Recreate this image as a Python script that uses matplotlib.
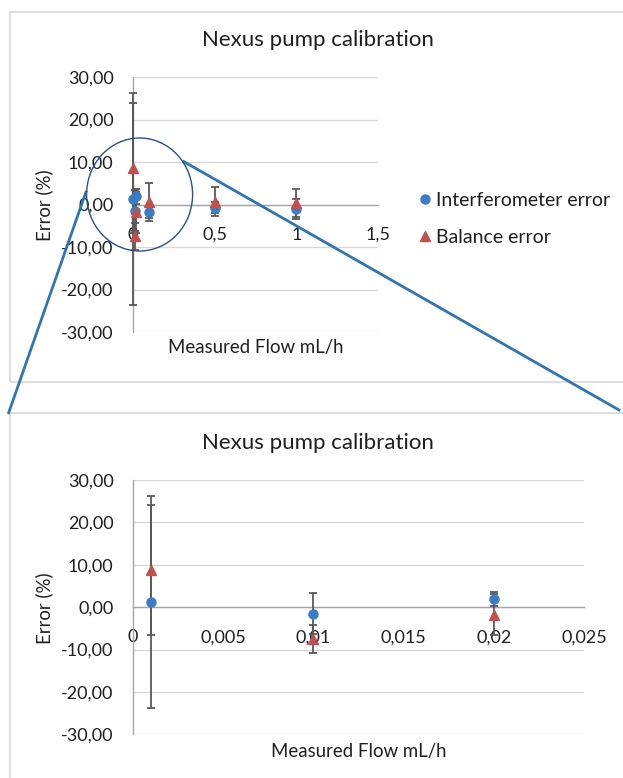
import matplotlib
matplotlib.use("Agg")
import matplotlib.pyplot as plt
from matplotlib.patches import Ellipse, Rectangle
from matplotlib.lines import Line2D

# ---------------- data ----------------
title = "Nexus pump calibration"
xlabel = "Measured Flow mL/h"
ylabel = "Error (%)"
series_names = ["Interferometer error", "Balance error"]

flow = [0.001, 0.01, 0.02, 0.1, 0.5, 1.0]
interf_err = [1.3, -1.5, 1.9, -1.7, -0.8, -1.0]
interf_lo = [25.0, 4.8, 1.7, 1.4, 1.3, 2.3]
interf_hi = [25.0, 4.8, 1.7, 1.4, 1.3, 2.3]
balance_err = [8.7, -7.5, -1.8, 0.6, 0.5, 0.3]
balance_lo = [15.3, 3.2, 4.8, 4.4, 3.3, 3.3]
balance_hi = [15.3, 3.2, 4.8, 4.4, 3.6, 3.3]

y_ticks = [-30, -20, -10, 0, 10, 20, 30]
y_ticklabels = ["-30,00", "-20,00", "-10,00", "0,00", "10,00", "20,00", "30,00"]
top_xticks = [0, 0.5, 1.0, 1.5]
top_xticklabels = ["0", "0,5", "1", "1,5"]
bot_xticks = [0, 0.005, 0.01, 0.015, 0.02, 0.025]
bot_xticklabels = ["0", "0,005", "0,01", "0,015", "0,02", "0,025"]

# ---------------- style ----------------
plt.rcParams["font.family"] = ["Lato", "DejaVu Sans"]
FS = 13
TXT = "#1f1f1f"
BLUE = "#3A7DC6"
RED = "#C0504D"
ERR = "#595959"
GRID = "#D9D9D9"
AXIS = "#A6A6A6"

W, H = 623, 778
fig = plt.figure(figsize=(W / 100, H / 100), dpi=100)


def fx(px):
    return px / W


def fy(py):
    return 1 - py / H


# panel frames
fig.patches.append(Rectangle((fx(9.5), fy(381.5)), 1.0, fy(12) - fy(381.5),
                             transform=fig.transFigure, fill=False,
                             edgecolor=GRID, lw=1.2, zorder=0))
fig.patches.append(Rectangle((fx(9.5), -0.1), 1.0, fy(412.7) + 0.1,
                             transform=fig.transFigure, fill=False,
                             edgecolor=GRID, lw=1.2, zorder=0))


def setup(ax, xlim, xticks, xticklabels, title_py, ylabel_py):
    ax.set_xlim(*xlim)
    ax.set_ylim(-30, 30)
    ax.set_yticks(y_ticks)
    ax.set_yticklabels(y_ticklabels)
    ax.set_xticks(xticks)
    ax.set_xticklabels(xticklabels)
    for s in ["top", "right"]:
        ax.spines[s].set_visible(False)
    ax.spines["bottom"].set_position(("data", 0))
    ax.spines["bottom"].set_color(AXIS)
    ax.spines["left"].set_color(AXIS)
    ax.spines["bottom"].set_linewidth(1.0)
    ax.spines["left"].set_linewidth(1.0)
    ax.yaxis.grid(True, color=GRID, lw=1.0)
    ax.set_axisbelow(True)
    ax.tick_params(axis="y", length=0, pad=14, labelsize=FS, colors=TXT)
    ax.tick_params(axis="x", length=0, pad=16, labelsize=FS, colors=TXT)
    ax.patch.set_alpha(0)
    fig.text(fx(318), fy(title_py), title, ha="center", va="center",
             fontsize=16, color=TXT)
    fig.text(fx(44), fy(ylabel_py), ylabel, ha="center", va="center",
             rotation=90, fontsize=13.4, color=TXT)


def draw(ax):
    ax.errorbar(flow, interf_err, yerr=[interf_lo, interf_hi], fmt="none",
                ecolor=ERR, elinewidth=1.3, capsize=2.8, capthick=1.3,
                zorder=3, clip_on=False)
    ax.errorbar(flow, balance_err, yerr=[balance_lo, balance_hi], fmt="none",
                ecolor=ERR, elinewidth=1.3, capsize=2.8, capthick=1.3,
                zorder=3, clip_on=False)
    ax.plot(flow, interf_err, "o", color=BLUE, ms=6.5, mec=BLUE,
            label=series_names[0], zorder=4, clip_on=False, ls="none")
    ax.plot(flow, balance_err, "^", color=RED, ms=7, mec=RED,
            label=series_names[1], zorder=5, clip_on=False, ls="none")


ax1 = fig.add_axes([fx(133), fy(332), fx(378) - fx(133), fy(77) - fy(332)])
setup(ax1, (0, 1.5), top_xticks, top_xticklabels, 40, 205)
draw(ax1)
ax1.set_xlim(0, 1.5)
ax1.text(0.5, -(348 - 332) / 255, xlabel, transform=ax1.transAxes,
         ha="center", va="center", fontsize=13.4, color=TXT)

ax2 = fig.add_axes([fx(133), fy(734.3), fx(584) - fx(133), fy(480) - fy(734.3)])
setup(ax2, (0, 0.025), bot_xticks, bot_xticklabels, 443, 608)
draw(ax2)
ax2.set_xlim(0, 0.025)
ax2.text(0.5, -(752 - 734.3) / 254.3, xlabel, transform=ax2.transAxes,
         ha="center", va="center", fontsize=13.4, color=TXT)

# legend for top chart
h, l = ax1.get_legend_handles_labels()
fig.legend(h, l, loc="center left", bbox_to_anchor=(fx(417), fy(219)),
           frameon=False, fontsize=14, labelcolor=TXT, handlelength=0.8,
           handletextpad=0.2, labelspacing=1.05, borderpad=0,
           borderaxespad=0)

# zoom annotation: ellipse and connector lines
fig.patches.append(Ellipse((fx(139.6), fy(194.5)), fx(106), 113 / H,
                           transform=fig.transFigure, fill=False,
                           edgecolor="#2F4E8F", lw=1.0, zorder=10))
fig.lines.append(Line2D([fx(86), fx(8.7)], [fy(192), fy(412.7)],
                        transform=fig.transFigure, color="#2E75B6", lw=2.0,
                        zorder=10))
fig.lines.append(Line2D([fx(184), fx(619)], [fy(161.7), fy(410)],
                        transform=fig.transFigure, color="#2E75B6", lw=2.0,
                        zorder=10))

fig.savefig("out.png", dpi=100)
